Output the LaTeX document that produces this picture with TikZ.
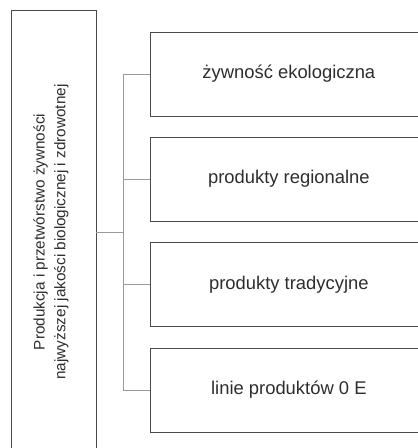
\documentclass[tikz,border=0pt]{standalone}
\usepackage{fontspec}
\setmainfont{Liberation Sans}
\definecolor{boxc}{HTML}{4A4A4A}
\definecolor{connc}{HTML}{9A9A9A}
\definecolor{txtc}{HTML}{2E2E2E}
\begin{document}
\begin{tikzpicture}[x=1pt,y=-1pt,
  frame/.style={draw=boxc, line width=0.9pt, fill=white, inner sep=0pt},
  itembox/.style={frame, minimum width=276.3pt, minimum height=84pt,
    text=txtc, font=\fontsize{18.4}{22}\selectfont},
  conn/.style={draw=connc, line width=0.9pt}]
\useasboundingbox (0,0) rectangle (418,448);
\clip (0,0) rectangle (418,448);
\node[frame, minimum width=85pt, minimum height=444pt] (L) at (53.5,232) {};
\node[rotate=90, align=center, text=txtc, font=\fontsize{15.3}{20.8}\selectfont] (Lt) at (51,232)
  {Produkcja i przetwórstwo żywności\\najwyższej jakości biologicznej i zdrowotnej};
\node[itembox] (b1) at (288.85,74) {żywność ekologiczna};
\node[itembox] (b2) at (288.85,179) {produkty regionalne};
\node[itembox] (b3) at (288.85,284.5) {produkty tradycyjne};
\node[itembox] (b4) at (288.85,390) {linie produktów 0 E};
\coordinate (j) at (123,232);
\draw[conn] (L.east |- j) -- (j);
\draw[conn] (j |- b1.west) -- (j |- b4.west);
\foreach \b in {b1,b2,b3,b4} \draw[conn] (j |- \b.west) -- (\b.west);
\end{tikzpicture}
\end{document}
